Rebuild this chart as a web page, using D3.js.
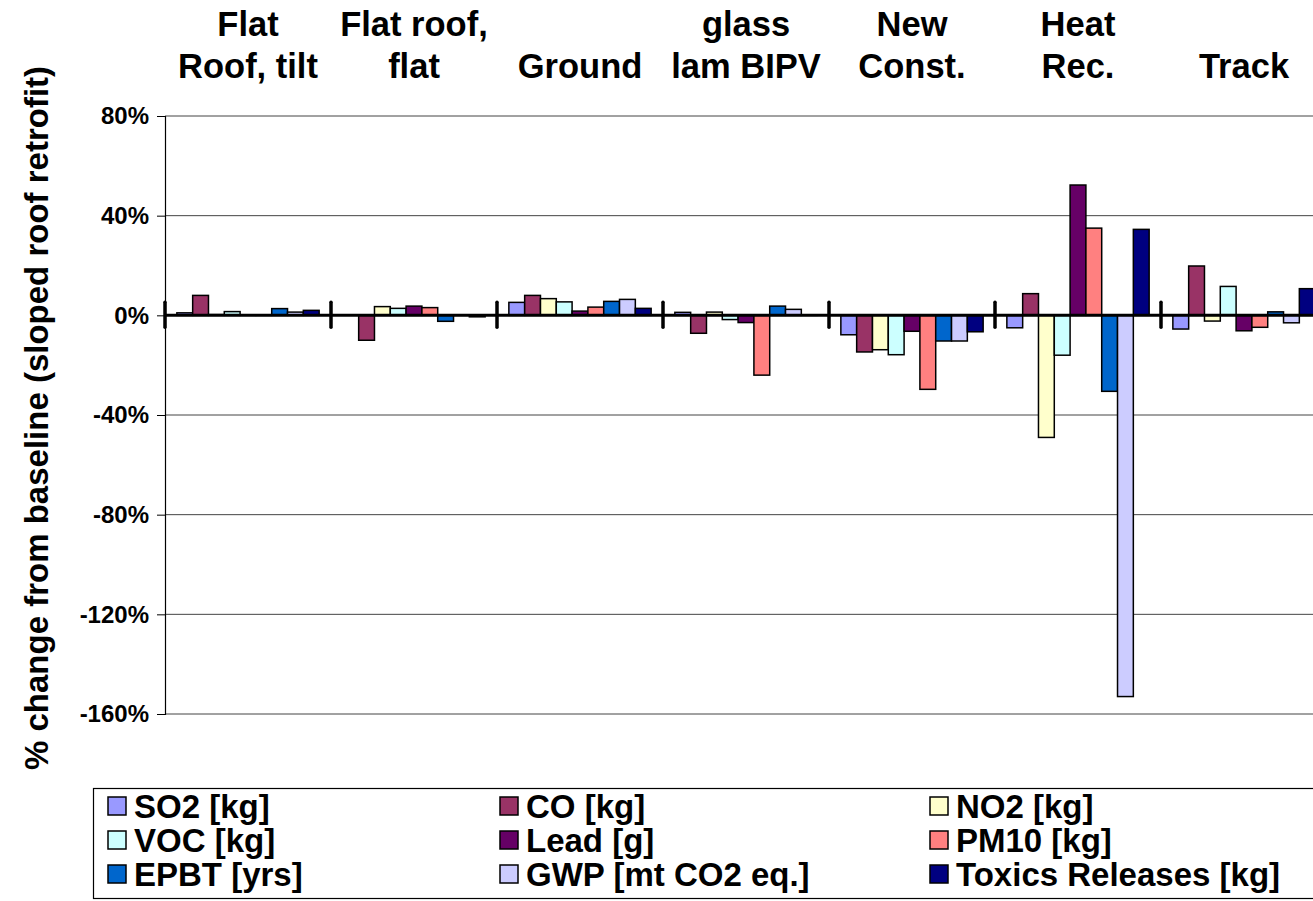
<!DOCTYPE html>
<html>
<head>
<meta charset="utf-8">
<script src="https://cdn.jsdelivr.net/npm/d3@7"></script>
<style>
  body { margin: 0; background: #fff; overflow: hidden; }
  svg { display: block; font-family: "Liberation Sans", Arial, sans-serif; font-weight: bold; }
</style>
</head>
<body>
<div id="chart"></div>
<script>
// categories (two lines each)
const categories = [
  ["Flat", "Roof, tilt"],
  ["Flat roof,", "flat"],
  ["", "Ground"],
  ["glass", "lam BIPV"],
  ["New", "Const."],
  ["Heat", "Rec."],
  ["", "Track"]
];
const seriesNames = ["SO2 [kg]", "CO [kg]", "NO2 [kg]", "VOC [kg]", "Lead [g]", "PM10 [kg]", "EPBT [yrs]", "GWP [mt CO2 eq.]", "Toxics Releases [kg]"];
const seriesColors = ["#9999FF", "#993366", "#FFFFCC", "#CCFFFF", "#660066", "#FF8080", "#0066CC", "#CCCCFF", "#000080"];

// % change per series, one value per category
const so2    = [1, 0, 5.2, 1.2, -7.8, -5, -5.5];
const co     = [8, -10, 8, -7.2, -14.7, 8.7, 19.8];
const no2    = [0.3, 3.5, 6.7, 1.3, -13.8, -49, -2.3];
const voc    = [1.5, 2.8, 5.4, -1.7, -15.8, -16, 11.6];
const lead   = [0.2, 3.7, 1.7, -2.9, -6.4, 52.3, -6.2];
const pm10   = [0.2, 3.1, 3.3, -24, -29.7, 35, -4.8];
const epbt   = [2.7, -2.4, 5.6, 3.7, -10.3, -30.5, 1.4];
const gwp    = [1.3, 0.2, 6.4, 2.4, -10.3, -153, -3];
const toxics = [2, -0.6, 2.8, 0.2, -6.6, 34.5, 10.7];
const seriesValues = [so2, co, no2, voc, lead, pm10, epbt, gwp, toxics];

const yTicks = [80, 40, 0, -40, -80, -120, -160];

const width = 1313, height = 901;
const plotLeft = 165, groupW = 166;
const plotTop = 116, plotBottom = 714;

const svg = d3.select("#chart").append("svg")
  .attr("width", width)
  .attr("height", height);

const x0 = d3.scaleBand()
  .domain(d3.range(categories.length))
  .range([plotLeft, plotLeft + groupW * categories.length])
  .padding(0);

const x1 = d3.scaleBand()
  .domain(d3.range(seriesNames.length))
  .range([0, x0.bandwidth()])
  .paddingInner(0)
  .paddingOuter(0.75);

const y = d3.scaleLinear()
  .domain([-160, 80])
  .range([plotBottom, plotTop]);

// gridlines
svg.append("g")
  .selectAll("line")
  .data(yTicks.filter(d => d !== 0))
  .join("line")
  .attr("x1", plotLeft)
  .attr("x2", plotLeft + groupW * categories.length)
  .attr("y1", d => y(d))
  .attr("y2", d => y(d))
  .attr("stroke", "#444")
  .attr("stroke-width", 1);

// y axis
const yAxis = svg.append("g")
  .attr("transform", `translate(${plotLeft},0)`)
  .call(d3.axisLeft(y).tickValues(yTicks).tickSize(8).tickPadding(8).tickFormat(d => d + "%"));
yAxis.select(".domain").attr("stroke", "#000").attr("stroke-width", 1.2);
yAxis.selectAll(".tick line").attr("stroke", "#000");
yAxis.selectAll("text")
  .attr("font-size", 24)
  .attr("font-family", "Liberation Sans, Arial, sans-serif")
  .attr("font-weight", "bold")
  .attr("fill", "#000");

// bars
const groups = svg.append("g")
  .selectAll("g")
  .data(categories.map((c, i) => i))
  .join("g")
  .attr("transform", i => `translate(${x0(i)},0)`);

groups.selectAll("rect")
  .data(i => seriesValues.map((vals, s) => ({ s, v: vals[i] })))
  .join("rect")
  .attr("x", d => x1(d.s))
  .attr("width", x1.bandwidth())
  .attr("y", d => y(Math.max(0, d.v)))
  .attr("height", d => Math.abs(y(d.v) - y(0)))
  .attr("fill", d => seriesColors[d.s])
  .attr("stroke", "#000")
  .attr("stroke-width", 1.5);

// zero axis line with group ticks
svg.append("line")
  .attr("x1", plotLeft)
  .attr("x2", plotLeft + groupW * categories.length)
  .attr("y1", y(0))
  .attr("y2", y(0))
  .attr("stroke", "#000")
  .attr("stroke-width", 3);

svg.append("g")
  .selectAll("line")
  .data(d3.range(categories.length + 1))
  .join("line")
  .attr("x1", i => plotLeft + groupW * i)
  .attr("x2", i => plotLeft + groupW * i)
  .attr("y1", y(0) - 13)
  .attr("y2", y(0) + 12)
  .attr("stroke", "#000")
  .attr("stroke-width", 3.5)
  .attr("stroke-linecap", "round");

// category labels at the top
const catLabels = svg.append("g")
  .selectAll("text")
  .data(categories.map((c, i) => ({ c, i })))
  .join("text")
  .attr("text-anchor", "middle")
  .attr("font-size", 34.5)
  .attr("fill", "#000");
catLabels.append("tspan")
  .attr("x", d => x0(d.i) + x0.bandwidth() / 2)
  .attr("y", 36)
  .text(d => d.c[0]);
catLabels.append("tspan")
  .attr("x", d => x0(d.i) + x0.bandwidth() / 2)
  .attr("y", 78)
  .text(d => d.c[1]);

// y axis title
svg.append("text")
  .attr("transform", `translate(48,418) rotate(-90)`)
  .attr("text-anchor", "middle")
  .attr("font-size", 33)
  .attr("fill", "#000")
  .text("% change from baseline (sloped roof retrofit)");

// legend
svg.append("rect")
  .attr("x", 93.5)
  .attr("y", 788.5)
  .attr("width", 1300)
  .attr("height", 110)
  .attr("fill", "#fff")
  .attr("stroke", "#000")
  .attr("stroke-width", 1.2);

const legCols = [107, 499, 929];
const legRows = [806, 840, 874];

const leg = svg.append("g")
  .selectAll("g")
  .data(seriesNames.map((n, i) => ({ n, i })))
  .join("g")
  .attr("transform", d => `translate(${legCols[d.i % 3]},${legRows[Math.floor(d.i / 3)]})`);

leg.append("rect")
  .attr("x", 1)
  .attr("y", -9)
  .attr("width", 18)
  .attr("height", 18)
  .attr("fill", d => seriesColors[d.i])
  .attr("stroke", "#000")
  .attr("stroke-width", 1.5);

leg.append("text")
  .attr("x", 27)
  .attr("y", 12)
  .attr("font-size", 33)
  .attr("fill", "#000")
  .text(d => d.n);
</script>
</body>
</html>
